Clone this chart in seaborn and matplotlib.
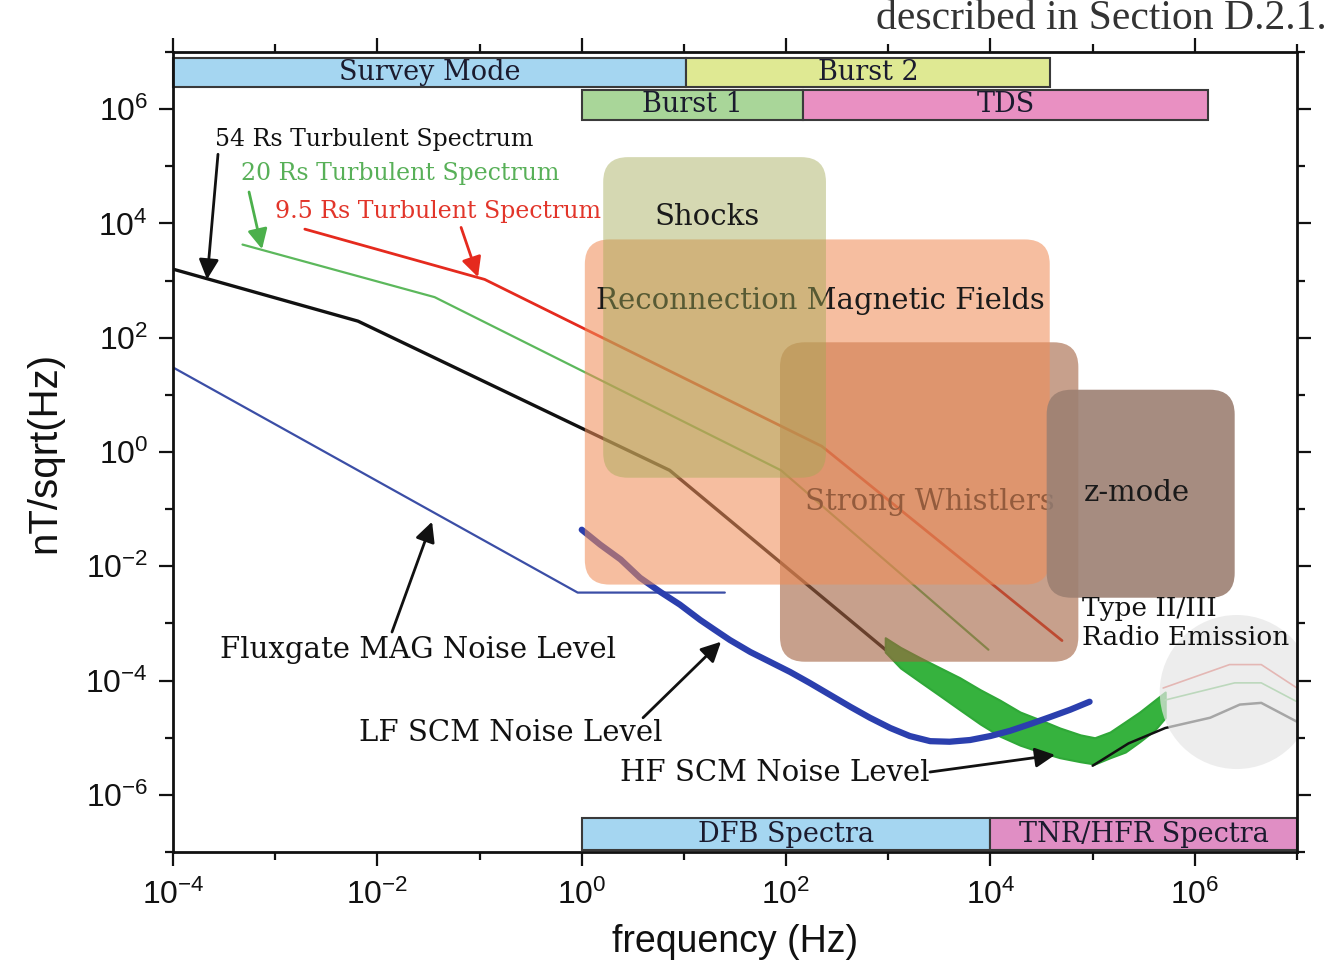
import numpy as np
import pandas as pd
import matplotlib
matplotlib.use("Agg")
import matplotlib.pyplot as plt
from matplotlib.patches import FancyBboxPatch, Rectangle
from matplotlib.ticker import NullFormatter
import seaborn as sns

# ---------------------------------------------------------------------------
# Spectra, as log10(frequency / Hz) and log10(amplitude / nT Hz^-1/2)
# ---------------------------------------------------------------------------
turb54_logf = [-4.0, -2.19, 0.86, 3.0]
turb54_logb = [3.20, 2.29, -0.32, -3.50]
turb54_hf_logf = [5.0, 5.35, 5.71, 6.15, 6.44, 6.65, 7.0]
turb54_hf_logb = [-5.49, -5.10, -4.83, -4.65, -4.42, -4.39, -4.72]

turb20_logf = [-3.32, -1.44, 1.95, 3.98]
turb20_logb = [3.63, 2.71, -0.32, -3.46]
turb20_hf_logf = [5.71, 6.39, 6.65, 7.0]
turb20_hf_logb = [-4.34, -4.04, -4.04, -4.37]

turb95_logf = [-2.71, -0.95, 2.35, 4.70]
turb95_logb = [3.90, 3.02, 0.10, -3.30]
turb95_hf_logf = [5.69, 6.34, 6.65, 7.0]
turb95_hf_logb = [-4.13, -3.72, -3.72, -4.13]

fluxgate_logf = [-4.0, -0.04, 1.40]
fluxgate_logb = [1.48, -2.46, -2.46]

# LF search-coil noise floor
lfscm_logf = [0.00, 0.18, 0.38, 0.57, 0.77, 0.96, 1.16, 1.30, 1.45, 1.65, 1.84,
              2.04, 2.23, 2.43, 2.63, 2.82, 3.02, 3.21, 3.41, 3.60, 3.80, 4.00,
              4.19, 4.39, 4.58, 4.78, 4.97]
lfscm_logb = [-1.36, -1.62, -1.88, -2.20, -2.45, -2.67, -2.94, -3.11, -3.29,
              -3.50, -3.67, -3.85, -4.04, -4.25, -4.46, -4.65, -4.83, -4.97,
              -5.06, -5.07, -5.04, -4.97, -4.88, -4.76, -4.64, -4.51, -4.37]

# HF search-coil noise floor: spread of the measured spectrum (upper / lower)
hfscm_logf = [2.97, 3.12, 3.31, 3.51, 3.70, 3.90, 4.09, 4.29, 4.49, 4.68, 4.88,
              5.02, 5.17, 5.32, 5.46, 5.61, 5.71]
hfscm_logb_hi = [-3.25, -3.42, -3.60, -3.78, -3.95, -4.16, -4.34, -4.55, -4.69,
                 -4.83, -4.95, -5.00, -4.90, -4.72, -4.55, -4.34, -4.20]
hfscm_logb_lo = [-3.50, -3.78, -4.02, -4.27, -4.51, -4.76, -4.97, -5.13, -5.25,
                 -5.35, -5.42, -5.46, -5.35, -5.25, -5.07, -4.86, -4.65]

# ---------------------------------------------------------------------------
# Instrument / mode bands (frequency extents) and their rows
# ---------------------------------------------------------------------------
mode_names = ["Survey Mode", "Burst 2", "Burst 1", "TDS", "DFB Spectra", "TNR/HFR Spectra"]
mode_fmin = [1e-4, 10.5, 1.0, 145.0, 1.0, 1e4]
mode_fmax = [10.5, 3.8e4, 145.0, 1.35e6, 1e4, 1e7]
mode_row = [0, 0, 1, 1, 2, 2]
mode_colors = ["#a5d6f1", "#dfe993", "#a9d699", "#e990c2", "#a5d6f1", "#e08ec4"]
row_bottom = [0.956, 0.915, 0.0025]
row_top = [0.9925, 0.9525, 0.0425]

# ---------------------------------------------------------------------------
# Physical regimes (log10 extents), drawn bottom to top
# ---------------------------------------------------------------------------
region_names = ["Strong Whistlers", "Reconnection Magnetic Fields", "Shocks", "z-mode"]
region_logf_min = [1.94, 0.03, 0.21, 4.55]
region_logf_max = [4.86, 4.58, 2.39, 6.39]
region_logb_min = [-3.67, -2.32, -0.45, -2.55]
region_logb_max = [1.92, 3.72, 5.16, 1.09]
region_colors = ["#a3613f", "#f08e58", "#a2a954", "#9d8072"]
region_alpha = [0.6, 0.57, 0.45, 0.9]
region_label_logf = [3.41, 2.34, 1.23, 5.43]
region_label_logb = [-0.87, 2.65, 4.11, -0.71]

sns.set_theme(style="ticks")
plt.rcParams.update({
    "font.family": ["Liberation Sans", "DejaVu Sans"],
    "mathtext.fontset": "custom",
    "mathtext.rm": "Liberation Sans",
    "mathtext.it": "Liberation Sans:italic",
    "mathtext.bf": "Liberation Sans:bold",
    "axes.linewidth": 2.0,
    "axes.edgecolor": "#111111",
})

SERIF = "DejaVu Serif"

fig = plt.figure(figsize=(13.3, 9.61), dpi=100)
ax = fig.add_axes([0.1301, 0.1134, 0.8451, 0.8325])
ax.set_xscale("log")
ax.set_yscale("log")
ax.set_xlim(1e-4, 1e7)
ax.set_ylim(1e-7, 1e7)


def draw_line(logf, logb, color, lw, z=2.0, alpha=1.0):
    df = pd.DataFrame({"f": 10.0 ** np.asarray(logf), "b": 10.0 ** np.asarray(logb)})
    sns.lineplot(data=df, x="f", y="b", ax=ax, color=color, lw=lw, zorder=z,
                 alpha=alpha, sort=False, estimator=None)


# spectra
draw_line(turb54_logf, turb54_logb, "#111111", 2.4)
draw_line(turb20_logf, turb20_logb, "#5cb85c", 1.6)
draw_line(turb95_logf, turb95_logb, "#e52a1e", 2.0)
draw_line(fluxgate_logf, fluxgate_logb, "#3b4ea6", 1.6)
hf_f = 10.0 ** np.asarray(hfscm_logf)
ax.fill_between(hf_f, 10.0 ** np.asarray(hfscm_logb_lo), 10.0 ** np.asarray(hfscm_logb_hi),
                color="#36b23e", lw=1.5, ec="#2fa838", zorder=2)
draw_line(lfscm_logf, lfscm_logb, "#2b3fae", 4.5, z=2.05)
draw_line(turb95_hf_logf, turb95_hf_logb, "#e04a40", 1.2, z=2.1)
draw_line(turb20_hf_logf, turb20_hf_logb, "#5cb85c", 1.2, z=2.1)
draw_line(turb54_hf_logf, turb54_hf_logb, "#111111", 1.8, z=2.2)

# radio emission halo
ax.scatter([10 ** 6.41], [10 ** -4.20], s=12300, color="#e6e6e6", alpha=0.7,
           edgecolors="none", zorder=2.5)

# regimes as rounded translucent boxes
to_axes = ax.transData + ax.transAxes.inverted()
ax_w_px, ax_h_px = 0.8451 * 1330, 0.8325 * 961
for i, name in enumerate(region_names):
    (x0, y0), (x1, y1) = to_axes.transform([
        (10 ** region_logf_min[i], 10 ** region_logb_min[i]),
        (10 ** region_logf_max[i], 10 ** region_logb_max[i])])
    z = 3 + i
    box = FancyBboxPatch((x0, y0), x1 - x0, y1 - y0,
                         boxstyle="round,pad=0,rounding_size=0.022",
                         mutation_aspect=ax_w_px / ax_h_px,
                         transform=ax.transAxes, fc=region_colors[i], ec="none",
                         alpha=region_alpha[i], zorder=z)
    ax.add_patch(box)
    ax.text(10 ** region_label_logf[i], 10 ** region_label_logb[i], name,
            ha="center", va="center", family=SERIF, fontsize=21,
            color="#1a1a1a", zorder=z + 0.5)

# instrument bands
band_trans = ax.get_xaxis_transform()
for name, f0, f1, row, col in zip(mode_names, mode_fmin, mode_fmax, mode_row, mode_colors):
    y0, y1 = row_bottom[row], row_top[row]
    ax.add_patch(Rectangle((f0, y0), f1 - f0, y1 - y0, transform=band_trans,
                           fc=col, ec="#3a3a3a", lw=1.5, zorder=8, clip_on=False))
    ax.text(np.sqrt(f0 * f1), (y0 + y1) / 2, name, transform=band_trans,
            ha="center", va="center", family=SERIF, fontsize=19.5,
            color="#1b1b2e", zorder=9)

# spectrum labels
ax.text(10 ** -3.59, 10 ** 5.47, "54 Rs Turbulent Spectrum", family=SERIF,
        fontsize=17, color="#111111", va="center", ha="left", zorder=10)
ax.text(10 ** -3.335, 10 ** 4.88, "20 Rs Turbulent Spectrum", family=SERIF,
        fontsize=17, color="#58b058", va="center", ha="left", zorder=10)
ax.text(10 ** -3.00, 10 ** 4.20, "9.5 Rs Turbulent Spectrum", family=SERIF,
        fontsize=17, color="#e2352a", va="center", ha="left", zorder=10)
ax.text(10 ** -1.60, 10 ** -3.46, "Fluxgate MAG Noise Level", family=SERIF,
        fontsize=21, color="#111111", va="center", ha="center", zorder=10)
ax.text(10 ** -0.69, 10 ** -4.92, "LF SCM Noise Level", family=SERIF,
        fontsize=21, color="#111111", va="center", ha="center", zorder=10)
ax.text(10 ** 1.89, 10 ** -5.62, "HF SCM Noise Level", family=SERIF,
        fontsize=21, color="#111111", va="center", ha="center", zorder=10)
ax.text(10 ** 4.90, 10 ** -2.99, "Type II/III\nRadio Emission", family=SERIF,
        fontsize=19, color="#111111", va="center", ha="left", linespacing=1.2,
        zorder=10)

# arrows: (start, tip) in log10 coordinates
arrows = [
    ((-3.56, 5.21), (-3.667, 3.02), "#111111"),
    ((-3.256, 4.55), (-3.129, 3.55), "#4cb04c"),
    ((-1.181, 3.93), (-1.015, 3.06), "#e52a1e"),
    ((-1.857, -3.15), (-1.465, -1.22), "#111111"),
    ((0.600, -4.65), (1.363, -3.32), "#111111"),
    ((3.408, -5.60), (4.632, -5.30), "#111111"),
]
for (s, t, c) in arrows:
    ax.annotate("", xy=(10 ** t[0], 10 ** t[1]), xytext=(10 ** s[0], 10 ** s[1]),
                arrowprops=dict(arrowstyle="-|>", color=c, lw=2.0,
                                mutation_scale=30, shrinkA=0, shrinkB=0),
                zorder=10)

# axes ticks and labels
xmaj = [1e-4, 1e-2, 1e0, 1e2, 1e4, 1e6]
xlab = [r"$10^{-4}$", r"$10^{-2}$", r"$10^{0}$", r"$10^{2}$", r"$10^{4}$", r"$10^{6}$"]
ymaj = [1e-6, 1e-4, 1e-2, 1e0, 1e2, 1e4, 1e6]
ylab = [r"$10^{-6}$", r"$10^{-4}$", r"$10^{-2}$", r"$10^{0}$", r"$10^{2}$", r"$10^{4}$", r"$10^{6}$"]
ax.set_xticks(xmaj, xlab)
ax.set_yticks(ymaj, ylab)
ax.set_xticks([1e-3, 1e-1, 1e1, 1e3, 1e5, 1e7], minor=True)
ax.set_yticks([1e-7, 1e-5, 1e-3, 1e-1, 1e1, 1e3, 1e5, 1e7], minor=True)
ax.xaxis.set_minor_formatter(NullFormatter())
ax.yaxis.set_minor_formatter(NullFormatter())
ax.tick_params(which="both", direction="out", top=True, right=True,
               colors="#111111", width=1.6)
ax.tick_params(which="major", length=10, labelsize=23, pad=8)
ax.tick_params(which="minor", length=6)
ax.tick_params(axis="x", which="major", pad=10)

ax.set_xlabel("frequency (Hz)", fontsize=27, labelpad=9, color="#111111")
ax.set_ylabel("nT/sqrt(Hz)", fontsize=29, labelpad=16, color="#111111")

for sp in ax.spines.values():
    sp.set_zorder(11)

# running text of the surrounding page
fig.text(0.9977, 1 - 29 / 961, "described in Section D.2.1.", ha="right",
         va="baseline", family="Liberation Serif", fontsize=30, color="#333333")

fig.savefig("out.png", dpi=100)
